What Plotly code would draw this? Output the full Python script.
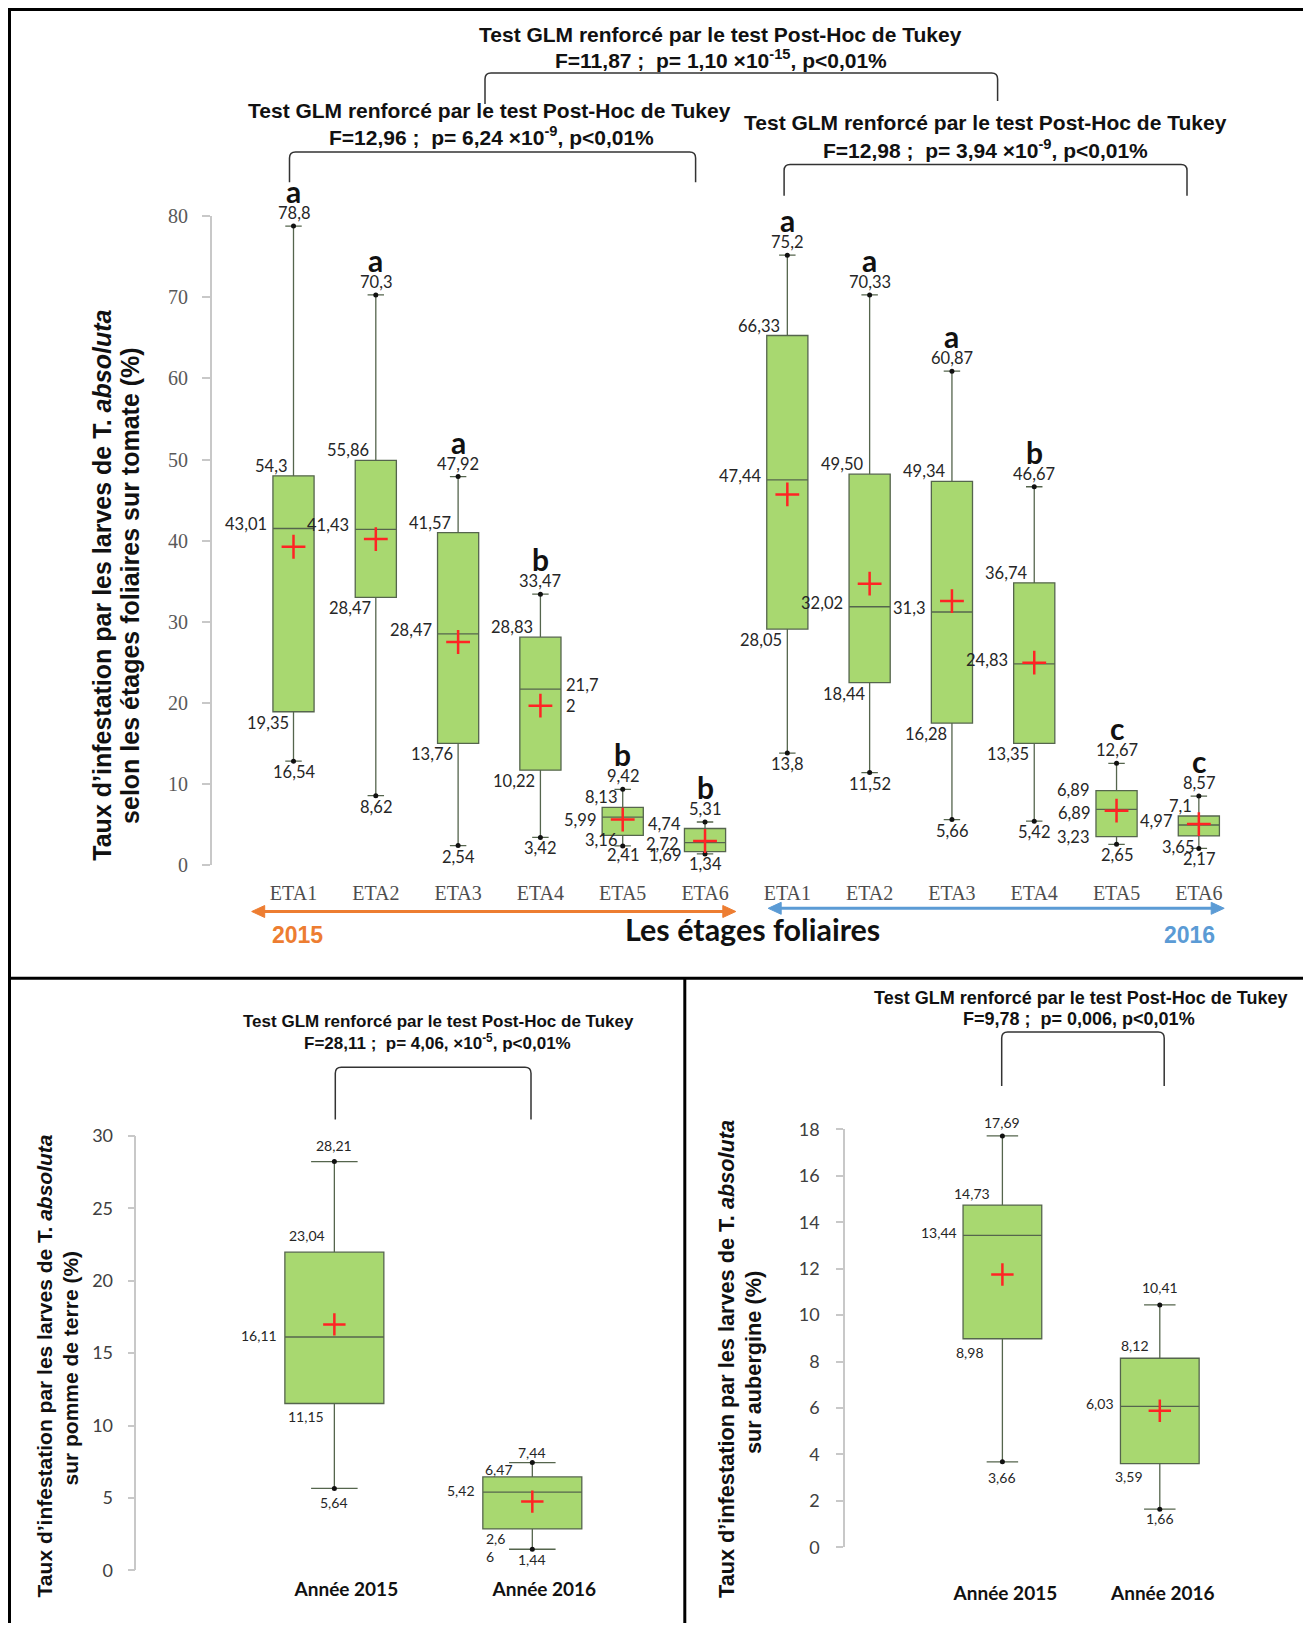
import plotly.graph_objects as go

# ====================== DATA ======================
# --- top chart: tomato, leaf stages, 2015 & 2016 ---
stages = ["ETA1", "ETA2", "ETA3", "ETA4", "ETA5", "ETA6"]
tomato_years = ["2015", "2016"]
tom_yticks = [0, 10, 20, 30, 40, 50, 60, 70, 80]
tom_upper = [78.8, 70.3, 47.9, 33.4, 9.33, 5.3, 75.2, 70.3, 60.9, 46.65, 12.54, 8.5]
tom_q3 = [48.0, 49.9, 41.0, 28.1, 7.1, 4.5, 65.3, 48.2, 47.3, 34.8, 9.16, 6.04]
tom_median = [41.5, 41.4, 28.5, 21.7, 5.9, 2.75, 47.5, 31.85, 31.2, 24.8, 6.87, 4.93]
tom_mean = [39.25, 40.2, 27.5, 19.65, 5.6, 2.96, 45.7, 34.7, 32.55, 24.95, 6.7, 5.05]
tom_q1 = [18.9, 33.0, 15.0, 11.7, 3.65, 1.65, 29.1, 22.5, 17.5, 15.0, 3.5, 3.58]
tom_lower = [12.8, 8.55, 2.4, 3.4, 2.35, 1.36, 13.8, 11.4, 5.6, 5.4, 2.55, 2.05]
tom_txt_upper = ["78,8", "70,3", "47,92", "33,47", "9,42", "5,31", "75,2", "70,33", "60,87", "46,67", "12,67", "8,57"]
tom_txt_q3 = ["54,3", "55,86", "41,57", "28,83", "8,13", "4,74", "66,33", "49,50", "49,34", "36,74", "6,89", "7,1"]
tom_txt_median = ["43,01", "41,43", "28,47", "21,7<br>2", "5,99", "2,72", "47,44", "32,02", "31,3", "24,83", "6,89", "4,97"]
tom_txt_q1 = ["19,35", "28,47", "13,76", "10,22", "3,16", "1,69", "28,05", "18,44", "16,28", "13,35", "3,23", "3,65"]
tom_txt_lower = ["16,54", "8,62", "2,54", "3,42", "2,41", "1,34", "13,8", "11,52", "5,66", "5,42", "2,65", "2,17"]
tom_letters = ["a", "a", "a", "b", "b", "b", "a", "a", "a", "b", "c", "c"]

# --- bottom-left: potato ---
years = ["Année 2015", "Année 2016"]
pot_yticks = [0, 5, 10, 15, 20, 25, 30]
pot_upper = [28.22, 7.44]
pot_q3 = [21.97, 6.45]
pot_median = [16.11, 5.40]
pot_mean = [16.98, 4.75]
pot_q1 = [11.52, 2.86]
pot_lower = [5.66, 1.46]
pot_txt_upper = ["28,21", "7,44"]
pot_txt_q3 = ["23,04", "6,47"]
pot_txt_median = ["16,11", "5,42"]
pot_txt_q1 = ["11,15", "2,6<br>6"]
pot_txt_lower = ["5,64", "1,44"]

# --- bottom-right: eggplant ---
aub_yticks = [0, 2, 4, 6, 8, 10, 12, 14, 16, 18]
aub_upper = [17.72, 10.44]
aub_q3 = [14.74, 8.14]
aub_median = [13.43, 6.07]
aub_mean = [11.75, 5.88]
aub_q1 = [8.98, 3.60]
aub_lower = [3.68, 1.64]
aub_txt_upper = ["17,69", "10,41"]
aub_txt_q3 = ["14,73", "8,12"]
aub_txt_median = ["13,44", "6,03"]
aub_txt_q1 = ["8,98", "3,59"]
aub_txt_lower = ["3,66", "1,66"]

# --- texts ---
glm_title = "Test GLM renforcé par le test Post-Hoc de Tukey"
stat_top = "F=11,87 ;  p= 1,10 ×10<sup>-15</sup>, p&lt;0,01%"
stat_2015 = "F=12,96 ;  p= 6,24 ×10<sup>-9</sup>, p&lt;0,01%"
stat_2016 = "F=12,98 ;  p= 3,94 ×10<sup>-9</sup>, p&lt;0,01%"
stat_pot = "F=28,11 ;  p= 4,06, ×10<sup>-5</sup>, p&lt;0,01%"
stat_aub = "F=9,78 ;  p= 0,006, p&lt;0,01%"
ytitle_l1 = "Taux d’infestation par les larves de T. <i>absoluta</i>"
ytitle_tom = "selon les étages foliaires sur tomate (%)"
ytitle_pot = "sur pomme de terre (%)"
ytitle_aub = "sur aubergine (%)"
xtitle_tom = "Les étages foliaires"

# ====================== LAYOUT HELPERS ======================
W, H, OFF = 1295, 1615, 8


def px(x):
    return (x - OFF) / W


def py(y):
    return 1 - (y - OFF) / H


BOX_FILL = "#a8d870"
BOX_LINE = "#55654d"
RED = "#ff2424"
LABEL_FONT = "Lato"
TITLE_FONT = "Liberation Sans"

fig = go.Figure()
tom_cats = [f"{s} {y}" for y in tomato_years for s in stages]


def add_boxes(cats, q1, med, q3, lo, hi, mean, xa, ya, ww, msize):
    fig.add_trace(go.Box(
        x=cats, q1=q1, median=med, q3=q3, lowerfence=lo, upperfence=hi,
        width=0.5, whiskerwidth=ww, fillcolor=BOX_FILL,
        line=dict(color=BOX_LINE, width=1.3), boxpoints=False,
        xaxis=xa, yaxis=ya, showlegend=False, hoverinfo="skip"))
    fig.add_trace(go.Scatter(
        x=list(cats) + list(cats), y=list(lo) + list(hi), mode="markers",
        marker=dict(color="#111111", size=5), xaxis=xa, yaxis=ya,
        showlegend=False, hoverinfo="skip"))
    fig.add_trace(go.Scatter(
        x=cats, y=mean, mode="markers",
        marker=dict(symbol="cross-thin", size=msize, color=RED,
                    line=dict(color=RED, width=2.5)),
        xaxis=xa, yaxis=ya, showlegend=False, hoverinfo="skip"))


add_boxes(tom_cats, tom_q1, tom_median, tom_q3, tom_lower, tom_upper, tom_mean, "x", "y", 0.4, 17)
add_boxes(years, pot_q1, pot_median, pot_q3, pot_lower, pot_upper, pot_mean, "x2", "y2", 0.47, 16)
add_boxes(years, aub_q1, aub_median, aub_q3, aub_lower, aub_upper, aub_mean, "x3", "y3", 0.4, 16)


def value_labels(xref, yref, cats, stats, texts, rules, overrides, size, half):
    for i, c in enumerate(cats):
        for k in ["upper", "q3", "median", "q1", "lower"]:
            r = dict(rules[k])
            r.update(overrides.get((i, k), {}))
            edge = r.get("edge")
            xs = r.get("dx", 0) + (-half if edge == "left" else half if edge == "right" else 0)
            fig.add_annotation(
                x=c, y=stats[k][i], xref=xref, yref=yref, text=texts[k][i],
                showarrow=False, xanchor=r["xa"], yanchor="middle",
                xshift=xs, yshift=r["dy"], align=r.get("align", "center"),
                font=dict(family=LABEL_FONT, size=size, color="#262626"))


# top chart labels
top_rules = {
    "upper": dict(xa="center", dy=13),
    "q3": dict(xa="right", dx=-5, dy=10),
    "median": dict(xa="right", edge="left", dx=-4, dy=4),
    "q1": dict(xa="right", dx=-3, dy=-11),
    "lower": dict(xa="center", dy=-11),
}
top_over = {
    (3, "median"): dict(xa="left", edge="right", dx=3, dy=-6, align="left"),
    (4, "q3"): dict(dx=-4, dy=10),
    (4, "median"): dict(dy=-3),
    (4, "q1"): dict(dx=-4, dy=-5),
    (4, "lower"): dict(dy=-9),
    (5, "q3"): dict(dx=-22, dy=5),
    (5, "median"): dict(dy=-1),
    (5, "q1"): dict(dx=-22, dy=-3),
    (5, "lower"): dict(dy=-10),
    (10, "q3"): dict(xa="right", edge="left", dx=-5, dy=1),
    (10, "median"): dict(dy=-4),
    (10, "q1"): dict(xa="right", edge="left", dx=-5, dy=0),
}
top_half = 82.3 * 0.25
value_labels("x", "y", tom_cats,
             dict(upper=tom_upper, q3=tom_q3, median=tom_median, q1=tom_q1, lower=tom_lower),
             dict(upper=tom_txt_upper, q3=tom_txt_q3, median=tom_txt_median, q1=tom_txt_q1, lower=tom_txt_lower),
             top_rules, top_over, 16.5, top_half)
for c, v, letter in zip(tom_cats, tom_upper, tom_letters):
    fig.add_annotation(x=c, y=v, xref="x", yref="y", text=f"<b>{letter}</b>", showarrow=False,
                       yanchor="middle", yshift=35,
                       font=dict(family=LABEL_FONT, size=30, color="#111111"))

# potato labels
pot_rules = {
    "upper": dict(xa="center", dy=16),
    "q3": dict(xa="right", dx=-7, dy=16.5),
    "median": dict(xa="right", edge="left", dx=-6, dy=2),
    "q1": dict(xa="right", dx=-8, dy=-12.6),
    "lower": dict(xa="center", dy=-14),
}
pot_over = {
    (1, "upper"): dict(dy=10),
    (1, "q3"): dict(xa="left", edge="left", dx=0, dy=7),
    (1, "q1"): dict(xa="left", edge="left", dx=1, dy=-19, align="left"),
    (1, "lower"): dict(dy=-10.5),
}
value_labels("x2", "y2", years,
             dict(upper=pot_upper, q3=pot_q3, median=pot_median, q1=pot_q1, lower=pot_lower),
             dict(upper=pot_txt_upper, q3=pot_txt_q3, median=pot_txt_median, q1=pot_txt_q1, lower=pot_txt_lower),
             pot_rules, pot_over, 14, 198 * 0.25)

# eggplant labels
aub_rules = {
    "upper": dict(xa="center", dy=13),
    "q3": dict(xa="right", dx=-10, dy=12),
    "median": dict(xa="right", edge="left", dx=-4, dy=3),
    "q1": dict(xa="right", dx=-16, dy=-14),
    "lower": dict(xa="center", dy=-15.6),
}
aub_over = {
    (1, "upper"): dict(dy=17),
    (1, "q3"): dict(dx=-9, dy=13),
    (1, "q1"): dict(dx=-15, dy=-13),
    (1, "lower"): dict(dy=-9),
}
value_labels("x3", "y3", years,
             dict(upper=aub_upper, q3=aub_q3, median=aub_median, q1=aub_q1, lower=aub_lower),
             dict(upper=aub_txt_upper, q3=aub_txt_q3, median=aub_txt_median, q1=aub_txt_q1, lower=aub_txt_lower),
             aub_rules, aub_over, 14, 157.4 * 0.25)


# ====================== TEXT / DECORATIONS ======================
def ptext(text, x, y, size, family=TITLE_FONT, color="#111111", bold=True, angle=0):
    fig.add_annotation(x=px(x), y=py(y), xref="paper", yref="paper",
                       text=f"<b>{text}</b>" if bold else text, showarrow=False,
                       xanchor="center", yanchor="middle", textangle=angle,
                       font=dict(family=family, size=size, color=color))


# GLM titles
ptext(glm_title, 720.6, 34.4, 21)
ptext(stat_top, 721, 59.4, 21)
ptext(glm_title, 489.5, 110.4, 21)
ptext(stat_2015, 491, 136.4, 21)
ptext(glm_title, 985.6, 122.9, 21)
ptext(stat_2016, 985.6, 148.9, 21)
ptext(glm_title, 438.4, 1021.5, 17)
ptext(stat_pot, 437, 1042.4, 17)
ptext(glm_title, 1080, 997.6, 18)
ptext(stat_aub, 1079, 1019.5, 18)

# y titles
ptext(ytitle_l1, 102, 585.7, 25, angle=-90)
ptext(ytitle_tom, 130, 585.9, 25, angle=-90)
ptext(ytitle_l1, 44, 1366.4, 21, angle=-90)
ptext(ytitle_pot, 70, 1368.5, 21, angle=-90)
ptext(ytitle_l1, 726, 1359, 21.7, angle=-90)
ptext(ytitle_aub, 753, 1363, 21.7, angle=-90)

# x title and years
ptext(xtitle_tom, 752, 929, 30.5, family=LABEL_FONT)
ptext(tomato_years[0], 297.5, 935, 23, color="#ED7D31")
ptext(tomato_years[1], 1189.7, 935, 23, color="#5B9BD5")


# double arrows: line + two filled triangular heads
def double_arrow(x0, x1, y, color, head=13, hw=6):
    fig.add_shape(type="line", xref="paper", yref="paper",
                  x0=px(x0 + head - 1), x1=px(x1 - head + 1), y0=py(y), y1=py(y),
                  line=dict(color=color, width=3))
    for tip, base in ((x0, x0 + head), (x1, x1 - head)):
        path = (f"M {px(tip)},{py(y)} L {px(base)},{py(y - hw)} "
                f"L {px(base)},{py(y + hw)} Z")
        fig.add_shape(type="path", path=path, xref="paper", yref="paper",
                      fillcolor=color, line=dict(color=color, width=1))


double_arrow(251.7, 735.8, 911.5, "#ED7D31")
double_arrow(768.2, 1224.2, 908.3, "#5B9BD5")


# brackets
def bracket(xl, xr, yt, ybl, ybr, r=6):
    path = (f"M {px(xl)},{py(ybl)} L {px(xl)},{py(yt + r)} "
            f"Q {px(xl)},{py(yt)} {px(xl + r)},{py(yt)} "
            f"L {px(xr - r)},{py(yt)} Q {px(xr)},{py(yt)} {px(xr)},{py(yt + r)} "
            f"L {px(xr)},{py(ybr)}")
    fig.add_shape(type="path", path=path, xref="paper", yref="paper",
                  line=dict(color="#333333", width=1.5))


bracket(485, 997.6, 72.9, 104, 101)
bracket(289.5, 695.6, 152, 182.2, 182.2)
bracket(784.1, 1187, 164.5, 195.8, 195.8)
bracket(335.3, 531, 1067.3, 1119.4, 1119.4)
bracket(1001.7, 1164.2, 1032, 1086, 1086)

# frame lines
frame = dict(color="#000000", width=3)
fig.add_shape(type="line", xref="paper", yref="paper", x0=px(8), x1=px(1311), y0=py(9.5), y1=py(9.5), line=frame)
fig.add_shape(type="line", xref="paper", yref="paper", x0=px(9.5), x1=px(9.5), y0=py(8), y1=py(1633), line=frame)
fig.add_shape(type="line", xref="paper", yref="paper", x0=px(8), x1=px(1311), y0=py(978.3), y1=py(978.3), line=frame)
fig.add_shape(type="line", xref="paper", yref="paper", x0=px(684.8), x1=px(684.8), y0=py(978.3), y1=py(1633), line=frame)

# ====================== AXES ======================
axis_gray = "#c8c8c8"
common_x = dict(showline=False, showgrid=False, zeroline=False, ticks="", fixedrange=True)
common_y = dict(showline=True, linecolor=axis_gray, linewidth=1.5, ticks="outside",
                tickcolor=axis_gray, tickwidth=1.5, showgrid=False, zeroline=False, fixedrange=True)

fig.update_layout(
    width=W, height=H,
    margin=dict(l=0, r=0, t=0, b=0, autoexpand=False),
    template="none",
    paper_bgcolor="white", plot_bgcolor="rgba(0,0,0,0)",
    showlegend=False,
    xaxis=dict(common_x, domain=[px(211.8), px(1240)], range=[-0.9927, 11.5], type="category",
               categoryorder="array", categoryarray=tom_cats, tickvals=tom_cats, ticktext=stages * 2,
               tickfont=dict(family="Liberation Serif", size=20, color="#4d4d4d"),
               ticklabelstandoff=14, anchor="y"),
    yaxis=dict(common_y, domain=[py(865), py(216.3)], range=[0, 80], tickvals=tom_yticks, ticklen=8,
               tickfont=dict(family="Liberation Serif", size=20, color="#595959"),
               ticklabelstandoff=10, anchor="x"),
    xaxis2=dict(common_x, domain=[px(136.4), px(631.3)], range=[-1, 1.5], type="category",
                categoryorder="array", categoryarray=years,
                tickfont=dict(family=LABEL_FONT, size=19, color="#111111", weight="bold"),
                ticklabelshift=12, ticklabelstandoff=6, anchor="y2"),
    yaxis2=dict(common_y, domain=[py(1570.4), py(1135.8)], range=[0, 30], tickvals=pot_yticks, ticklen=7,
                tickfont=dict(family=LABEL_FONT, size=18, color="#404040"),
                ticklabelstandoff=11, anchor="x2"),
    xaxis3=dict(common_x, domain=[px(845), px(1238.5)], range=[-1, 1.5], type="category",
                categoryorder="array", categoryarray=years,
                tickfont=dict(family=LABEL_FONT, size=19, color="#111111", weight="bold"),
                ticklabelshift=3, ticklabelstandoff=33, anchor="y3"),
    yaxis3=dict(common_y, domain=[py(1547.2), py(1129.4)], range=[0, 18], tickvals=aub_yticks, ticklen=7,
                tickfont=dict(family=LABEL_FONT, size=18, color="#404040"),
                ticklabelstandoff=13, anchor="x3"),
)

fig.write_html("out.html")
